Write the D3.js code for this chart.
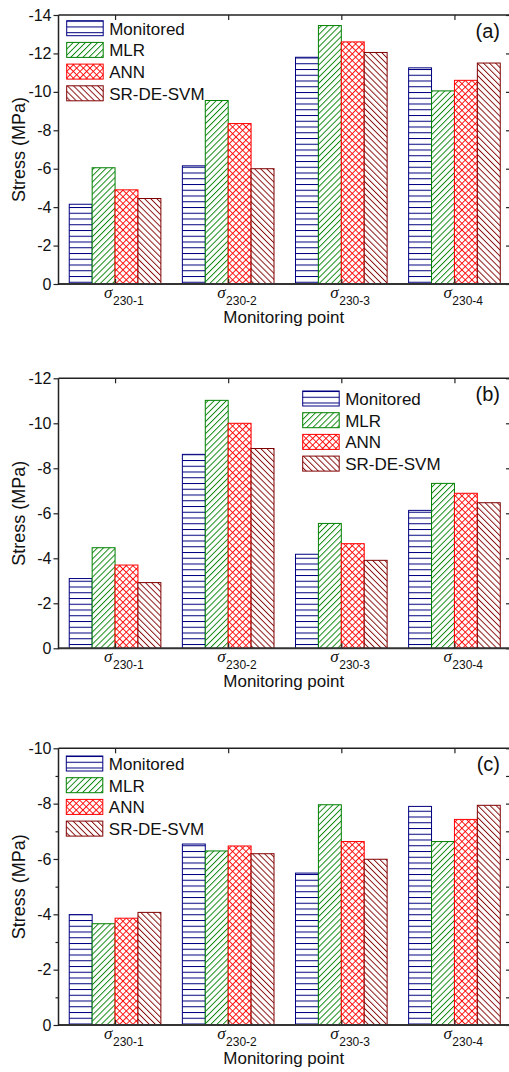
<!DOCTYPE html>
<html>
<head>
<meta charset="utf-8">
<script src="https://cdn.jsdelivr.net/npm/d3@7"></script>
<style>
  html, body { margin: 0; padding: 0; background: #fff; }
  svg { display: block; }
  text { font-family: "Liberation Sans", Arial, sans-serif; fill: #111; }
</style>
</head>
<body>
<div id="chart"></div>
<script>
// ---------------- DATA ----------------
const categories = ["230-1", "230-2", "230-3", "230-4"];
const seriesNames = ["Monitored", "MLR", "ANN", "SR-DE-SVM"];
const panelLabels = ["(a)", "(b)", "(c)"];

// Panel (a)
const monitoredA = [-4.15, -6.15, -11.8, -11.25];
const mlrA       = [-6.05, -9.55, -13.45, -10.05];
const annA       = [-4.9, -8.35, -12.6, -10.6];
const svmA       = [-4.45, -6.0, -12.05, -11.5];
// Panel (b)
const monitoredB = [-3.1, -8.62, -4.18, -6.13];
const mlrB       = [-4.47, -11.02, -5.55, -7.33];
const annB       = [-3.7, -10.0, -4.65, -6.89];
const svmB       = [-2.92, -8.88, -3.91, -6.47];
// Panel (c)
const monitoredC = [-3.99, -6.54, -5.49, -7.9];
const mlrC       = [-3.66, -6.29, -7.96, -6.63];
const annC       = [-3.86, -6.47, -6.63, -7.43];
const svmC       = [-4.07, -6.19, -5.99, -7.94];

// Axis ticks
const yTicksA = [0, -2, -4, -6, -8, -10, -12, -14];
const yTicksB = [0, -2, -4, -6, -8, -10, -12];
const yTicksC = [0, -2, -4, -6, -8, -10];
const yMinorC = [0, -1, -2, -3, -4, -5, -6, -7, -8, -9, -10];

// ---------------- LAYOUT / STYLE ----------------
const W = 509, H = 1072;
const left = 58.5, right = 511;
const panels = [
  { series: [monitoredA, mlrA, annA, svmA], ticks: yTicksA, minor: null, top: 15, bottom: 284, legend: [66.7, 20.7] },
  { series: [monitoredB, mlrB, annB, svmB], ticks: yTicksB, minor: null, top: 378.3, bottom: 648.3, legend: [302.7, 391] },
  { series: [monitoredC, mlrC, annC, svmC], ticks: yTicksC, minor: yMinorC, top: 748.3, bottom: 1025, legend: [66.3, 756] }
];
const colors = ["#000080", "#008000", "#ff0000", "#800000"];
const patIds = ["pHoriz", "pFwd", "pCross", "pBack"];

const svg = d3.select("#chart").append("svg").attr("width", W).attr("height", H);
const defs = svg.append("defs");

// horizontal lines (Monitored)
{
  const p = defs.append("pattern").attr("id", "pHoriz").attr("patternUnits", "userSpaceOnUse")
    .attr("width", 8).attr("height", 5.75);
  p.append("rect").attr("width", 8).attr("height", 5.75).attr("fill", "#fff");
  p.append("line").attr("x1", 0).attr("x2", 8).attr("y1", 0.5).attr("y2", 0.5)
    .attr("stroke", colors[0]).attr("stroke-width", 1);
}
// forward diagonal (MLR)
{
  const s = 4.3;
  const p = defs.append("pattern").attr("id", "pFwd").attr("patternUnits", "userSpaceOnUse")
    .attr("width", s).attr("height", 10).attr("patternTransform", "rotate(45)");
  p.append("rect").attr("width", s).attr("height", 10).attr("fill", "#fff");
  p.append("line").attr("x1", 0.5).attr("x2", 0.5).attr("y1", 0).attr("y2", 10)
    .attr("stroke", colors[1]).attr("stroke-width", 0.9);
}
// cross hatch (ANN)
{
  const s = 4.7;
  const p = defs.append("pattern").attr("id", "pCross").attr("patternUnits", "userSpaceOnUse")
    .attr("width", s).attr("height", s).attr("patternTransform", "rotate(45)");
  p.append("rect").attr("width", s).attr("height", s).attr("fill", "#fff");
  p.append("line").attr("x1", 0.5).attr("x2", 0.5).attr("y1", 0).attr("y2", s)
    .attr("stroke", colors[2]).attr("stroke-width", 0.9);
  p.append("line").attr("x1", 0).attr("x2", s).attr("y1", 0.5).attr("y2", 0.5)
    .attr("stroke", colors[2]).attr("stroke-width", 0.9);
}
// backward diagonal (SR-DE-SVM)
{
  const s = 4.3;
  const p = defs.append("pattern").attr("id", "pBack").attr("patternUnits", "userSpaceOnUse")
    .attr("width", s).attr("height", 10).attr("patternTransform", "rotate(-45)");
  p.append("rect").attr("width", s).attr("height", 10).attr("fill", "#fff");
  p.append("line").attr("x1", 0.5).attr("x2", 0.5).attr("y1", 0).attr("y2", 10)
    .attr("stroke", colors[3]).attr("stroke-width", 0.9);
}

const fmt = d => String(d);

panels.forEach((P, pi) => {
  const g = svg.append("g");
  const yMax = P.ticks[P.ticks.length - 1];
  const y = d3.scaleLinear().domain([0, yMax]).range([P.bottom, P.top]);
  const x = d3.scaleBand().domain(categories).range([left, right])
    .paddingInner(0.19).paddingOuter(0.095);
  const xs = d3.scaleBand().domain(seriesNames).range([0, x.bandwidth()]);

  // bars
  seriesNames.forEach((s, si) => {
    g.append("g").selectAll("rect").data(P.series[si]).join("rect")
      .attr("x", (d, i) => x(categories[i]) + xs(s))
      .attr("y", d => y(d))
      .attr("width", xs.bandwidth())
      .attr("height", d => y(0) - y(d))
      .attr("fill", `url(#${patIds[si]})`)
      .attr("stroke", colors[si]).attr("stroke-width", 1);
  });

  // axes
  const axL = g.append("g").attr("transform", `translate(${left},0)`)
    .call(d3.axisLeft(y).tickValues(P.ticks).tickFormat(fmt).tickSize(5).tickPadding(2));
  axL.select(".domain").remove();
  axL.selectAll("text").attr("font-size", 16).attr("font-family", "Liberation Sans, Arial, sans-serif").attr("fill", "#111");
  axL.selectAll("line").attr("stroke", "#222").attr("stroke-width", 1.2);

  const axR = g.append("g").attr("transform", `translate(${right},0)`)
    .call(d3.axisLeft(y).tickValues(P.minor || P.ticks).tickFormat("").tickSize(5));
  axR.select(".domain").remove();
  axR.selectAll("line").attr("stroke", "#222").attr("stroke-width", 1.2);

  if (P.minor) {
    const axM = g.append("g").attr("transform", `translate(${left},0)`)
      .call(d3.axisLeft(y).tickValues(P.minor.filter(v => v % 2 !== 0)).tickFormat("").tickSize(3));
    axM.select(".domain").remove();
    axM.selectAll("line").attr("stroke", "#222").attr("stroke-width", 1.2);
  }

  const centerAxis = d3.scalePoint().domain(categories).range([left, right]).padding(0.5);
  const axT = g.append("g").attr("transform", `translate(0,${P.top})`)
    .call(d3.axisBottom(centerAxis).tickFormat("").tickSize(5));
  axT.select(".domain").remove();
  axT.selectAll("line").attr("stroke", "#222").attr("stroke-width", 1.2);
  const axB = g.append("g").attr("transform", `translate(0,${P.bottom})`)
    .call(d3.axisTop(centerAxis).tickFormat("").tickSize(5));
  axB.select(".domain").remove();
  axB.selectAll("line").attr("stroke", "#222").attr("stroke-width", 1.2);

  // frame
  g.append("line").attr("x1", left).attr("x2", right).attr("y1", P.top).attr("y2", P.top)
    .attr("stroke", "#222").attr("stroke-width", 1.5);
  g.append("line").attr("x1", left).attr("x2", right).attr("y1", P.bottom).attr("y2", P.bottom)
    .attr("stroke", "#333").attr("stroke-width", 2);
  g.append("line").attr("x1", left).attr("x2", left).attr("y1", P.top).attr("y2", P.bottom + 1)
    .attr("stroke", "#222").attr("stroke-width", 1.5);
  g.append("line").attr("x1", right).attr("x2", right).attr("y1", P.top).attr("y2", P.bottom + 1)
    .attr("stroke", "#222").attr("stroke-width", 1.5);

  // category labels: sigma with subscript
  categories.forEach(c => {
    const cx = centerAxis(c);
    const t = g.append("text").attr("x", cx - 11).attr("y", P.bottom + 13.5);
    t.append("tspan").text("σ").attr("font-family", "Liberation Serif, DejaVu Serif, serif")
      .attr("font-style", "italic").attr("font-size", 17);
    t.append("tspan").text(c).attr("font-size", 12).attr("dy", 7).attr("dx", 0.5);
  });

  // axis titles
  g.append("text").attr("x", (left + right) / 2 - 1).attr("y", P.bottom + 38.5)
    .attr("text-anchor", "middle").attr("font-size", 17).text("Monitoring point");
  g.append("text")
    .attr("transform", `translate(24.5,${(P.top + P.bottom) / 2}) rotate(-90)`)
    .attr("text-anchor", "middle").attr("font-size", 18).text("Stress (MPa)");

  // panel label
  g.append("text").attr("x", 500).attr("y", P.top + 22.5).attr("text-anchor", "end")
    .attr("font-size", 20).text(panelLabels[pi]);

  // legend
  const [lx, ly] = P.legend;
  const lg = g.append("g").attr("transform", `translate(${lx},${ly})`);
  seriesNames.forEach((s, si) => {
    const row = lg.append("g").attr("transform", `translate(0,${si * 21.7})`);
    row.append("rect").attr("width", 36.5).attr("height", 15)
      .attr("fill", `url(#${patIds[si]})`).attr("stroke", colors[si]).attr("stroke-width", 1);
    row.append("text").attr("x", 42.5).attr("y", 13.8).attr("font-size", 17).text(s);
  });
});
</script>
</body>
</html>
